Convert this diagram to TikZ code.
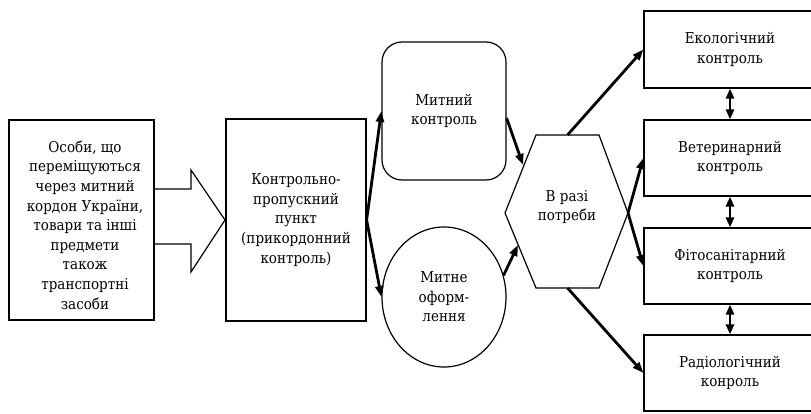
\documentclass[tikz,border=0pt]{standalone}
\usepackage{fontspec}
\setmainfont{DejaVu Serif}[FakeStretch=0.9]
\newfontfamily\tmsfont{DejaVu Serif}[FakeStretch=0.9]
\usetikzlibrary{arrows.meta,shapes.geometric}
\begin{document}
\begin{tikzpicture}[x=1pt,y=-1pt,
  txt/.style={align=center,inner sep=0pt,font=\tmsfont\fontsize{15}{19.6}\selectfont},
  frame/.style={draw,line width=1.2pt,inner sep=0pt,align=center,font=\tmsfont\fontsize{15}{19.6}\selectfont},
  arr/.style={line width=2.8pt,-{Triangle[length=11pt,width=8pt]}},
  dbl/.style={line width=2.8pt,{Triangle[length=10pt,width=8pt]}-{Triangle[length=10pt,width=8pt]}}]
\clip (0,0) rectangle (811,414);
\fill[white] (0,0) rectangle (811,414);
% source box
\node[frame,minimum width=145pt,minimum height=200pt] (src) at (81.5,220) {};
\node[txt] (srct) at (85,225) {Особи, що\\переміщуються\\через митний\\кордон України,\\товари та інші\\предмети\\також\\транспортні\\засоби};
% block arrow
\draw[line width=1.2pt,line join=miter] (154,189) -- (191,189) -- (191,170) -- (225,220) -- (191,272) -- (191,244) -- (154,244);
% checkpoint
\node[frame,minimum width=140pt,minimum height=202pt] (kpp) at (296,220) {Контрольно-\\пропускний\\пункт\\(прикордонний\\контроль)};
% customs control
\node[frame,rounded corners=20pt,minimum width=124pt,minimum height=138pt] (mk) at (444,111) {Митний\\контроль};
% customs clearance
\node[frame,ellipse,minimum width=124pt,minimum height=140pt] (mo) at (444,297) {Митне\\оформ-\\лення};
% hexagon
\draw[line width=1.2pt] (505,213) -- (536,135) -- (599,135) -- (628,213) -- (599,288) -- (536,288) -- cycle;
\coordinate (hT) at (567.5,135);
\coordinate (hB) at (567.5,288);
\coordinate (hR) at (628,213);
\coordinate (hUL) at (523,165);
\coordinate (hLL) at (518,245);
\node[txt] (hex) at (567,207) {В разі\\потреби};
% right boxes
\node[frame,minimum width=172pt,minimum height=77pt] (eco) at (730,49.5) {Екологічний\\контроль};
\node[frame,minimum width=172pt,minimum height=76pt] (vet) at (730,158) {Ветеринарний\\контроль};
\node[frame,minimum width=172pt,minimum height=76pt] (fito) at (730,266) {Фітосанітарний\\контроль};
\node[frame,minimum width=172pt,minimum height=76pt] (rad) at (730,373) {Радіологічний\\конроль};
% connectors
\draw[arr] (kpp.east) -- (mk.west);
\draw[arr] (kpp.east) -- (mo.west);
\draw[arr] ([yshift=-7pt]mk.east) -- (hUL);
\draw[arr] (mo.20) -- (hLL);
\draw[arr] (hT) -- (eco.west);
\draw[arr] (hR) -- (vet.west);
\draw[arr] (hR) -- (fito.west);
\draw[arr] (hB) -- (rad.west);
\draw[dbl] (eco.south) -- (vet.north);
\draw[dbl] (vet.south) -- (fito.north);
\draw[dbl] (fito.south) -- (rad.north);
\end{tikzpicture}
\end{document}
